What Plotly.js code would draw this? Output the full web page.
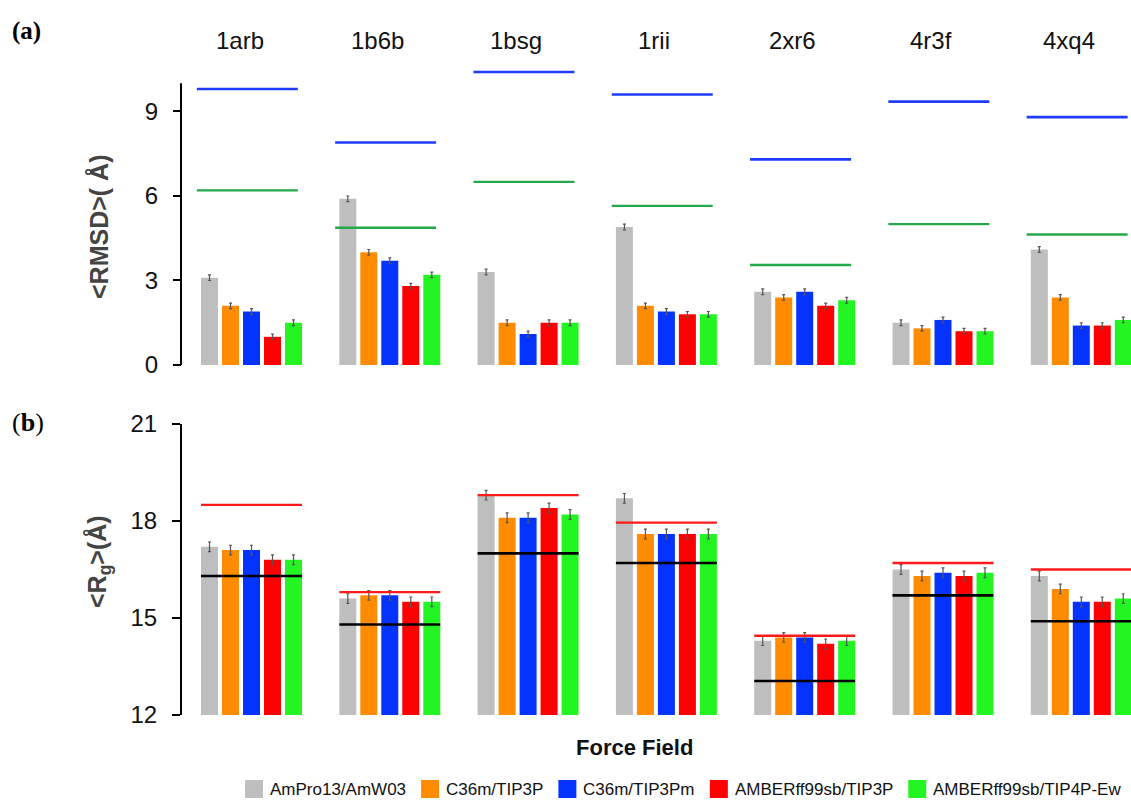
<!DOCTYPE html>
<html>
<head>
<meta charset="utf-8">
<script src="https://cdn.plot.ly/plotly-3.0.1.min.js"></script>
<style>
  html, body { margin: 0; padding: 0; background: #ffffff; }
  #chart { width: 1131px; height: 803px; }
</style>
</head>
<body>
<div id="chart"></div>
<script>
// ---------------- DATA ----------------
const proteins = ['1arb', '1b6b', '1bsg', '1rii', '2xr6', '4r3f', '4xq4'];
const forceFields = ['AmPro13/AmW03', 'C36m/TIP3P', 'C36m/TIP3Pm', 'AMBERff99sb/TIP3P', 'AMBERff99sb/TIP4P-Ew'];

// (a) <RMSD> (Å)
const rmsdAmPro13   = [3.1, 5.9, 3.3, 4.9, 2.6, 1.5, 4.1];
const rmsdC36Tip3p  = [2.1, 4.0, 1.5, 2.1, 2.4, 1.3, 2.4];
const rmsdC36Tip3pm = [1.9, 3.7, 1.1, 1.9, 2.6, 1.6, 1.4];
const rmsdFf99Tip3p = [1.0, 2.8, 1.5, 1.8, 2.1, 1.2, 1.4];
const rmsdFf99Tip4p = [1.5, 3.2, 1.5, 1.8, 2.3, 1.2, 1.6];
const rmsdErrAmPro13   = [0.1, 0.1, 0.1, 0.1, 0.1, 0.1, 0.1];
const rmsdErrC36Tip3p  = [0.1, 0.1, 0.1, 0.1, 0.1, 0.1, 0.1];
const rmsdErrC36Tip3pm = [0.1, 0.1, 0.1, 0.1, 0.1, 0.1, 0.1];
const rmsdErrFf99Tip3p = [0.1, 0.1, 0.1, 0.1, 0.1, 0.1, 0.1];
const rmsdErrFf99Tip4p = [0.1, 0.1, 0.1, 0.1, 0.1, 0.1, 0.1];
const rmsdRefBlue  = [9.8, 7.9, 10.4, 9.6, 7.3, 9.35, 8.8];
const rmsdRefGreen = [6.2, 4.87, 6.5, 5.65, 3.55, 5.0, 4.63];

// (b) <Rg> (Å)
const rgAmPro13   = [17.2, 15.6, 18.8, 18.7, 14.3, 16.5, 16.3];
const rgC36Tip3p  = [17.1, 15.7, 18.1, 17.6, 14.4, 16.3, 15.9];
const rgC36Tip3pm = [17.1, 15.7, 18.1, 17.6, 14.4, 16.4, 15.5];
const rgFf99Tip3p = [16.8, 15.5, 18.4, 17.6, 14.2, 16.3, 15.5];
const rgFf99Tip4p = [16.8, 15.5, 18.2, 17.6, 14.3, 16.4, 15.6];
const rgErrAmPro13   = [0.15, 0.15, 0.15, 0.15, 0.15, 0.15, 0.15];
const rgErrC36Tip3p  = [0.15, 0.15, 0.15, 0.15, 0.15, 0.15, 0.15];
const rgErrC36Tip3pm = [0.15, 0.15, 0.15, 0.15, 0.15, 0.15, 0.15];
const rgErrFf99Tip3p = [0.15, 0.15, 0.15, 0.15, 0.15, 0.15, 0.15];
const rgErrFf99Tip4p = [0.15, 0.15, 0.15, 0.15, 0.15, 0.15, 0.15];
const rgRefRed   = [18.5, 15.8, 18.8, 17.95, 14.45, 16.7, 16.5];
const rgRefBlack = [16.3, 14.8, 17.0, 16.7, 13.05, 15.7, 14.9];

const yTicksRmsd = [0, 3, 6, 9];
const yTicksRg = [12, 15, 18, 21];

// ---------------- STYLE / GEOMETRY ----------------
const seriesColors = ['#BEBEBE', '#FF8C00', '#0433FF', '#FF0000', '#22F522'];
const W = 1131, H = 803;
const mL = 182, mR = 0, mT = 58, mB = 88;
const plotW = W - mL - mR, plotH = H - mT - mB;
const pxX = px => (px - mL) / plotW;
const pxY = py => (H - mB - py) / plotH;

const unitPx = 138.3;                 // pixels per group
const firstCenterPx = 251.5;
const xr0 = -(firstCenterPx - mL) / unitPx;
const xr1 = xr0 + plotW / unitPx;

const topDomain = [pxY(365), 1];
const topRangeMax = (365 - mT) / 28.17;
const botDomain = [0, pxY(424)];

const bargap = 0.241, bargroupgap = 0.19;
const slot = (1 - bargap) / 5;
const halfGroup = (4 * slot + slot * (1 - bargroupgap)) / 2;

const xIdx = proteins.map((_, i) => i);
const fontSans = '"Liberation Sans", Arial, Helvetica, sans-serif';

const rmsdSeries = [rmsdAmPro13, rmsdC36Tip3p, rmsdC36Tip3pm, rmsdFf99Tip3p, rmsdFf99Tip4p];
const rmsdErrs = [rmsdErrAmPro13, rmsdErrC36Tip3p, rmsdErrC36Tip3pm, rmsdErrFf99Tip3p, rmsdErrFf99Tip4p];
const rgSeries = [rgAmPro13, rgC36Tip3p, rgC36Tip3pm, rgFf99Tip3p, rgFf99Tip4p];
const rgErrs = [rgErrAmPro13, rgErrC36Tip3p, rgErrC36Tip3pm, rgErrFf99Tip3p, rgErrFf99Tip4p];

const traces = [];
forceFields.forEach((name, k) => {
  traces.push({
    type: 'bar', name: name, x: xIdx, y: rmsdSeries[k], xaxis: 'x', yaxis: 'y',
    marker: { color: seriesColors[k], line: { width: 0 } },
    error_y: { type: 'data', array: rmsdErrs[k], visible: true, color: '#555555', thickness: 1.2, width: 1.5 },
    showlegend: false, hoverinfo: 'skip'
  });
});
forceFields.forEach((name, k) => {
  traces.push({
    type: 'bar', name: name, x: xIdx, y: rgSeries[k], xaxis: 'x2', yaxis: 'y2',
    marker: { color: seriesColors[k], line: { width: 0 } },
    error_y: { type: 'data', array: rgErrs[k], visible: true, color: '#555555', thickness: 1.2, width: 1.5 },
    showlegend: false, hoverinfo: 'skip'
  });
});

function refLine(values, shift, color, width, xa, ya) {
  const xs = [], ys = [];
  values.forEach((v, i) => {
    xs.push(i - halfGroup + shift, i + halfGroup + shift, null);
    ys.push(v, v, null);
  });
  return { type: 'scatter', mode: 'lines', x: xs, y: ys, xaxis: xa, yaxis: ya,
           line: { color: color, width: width }, showlegend: false, hoverinfo: 'skip', connectgaps: false };
}
traces.push(refLine(rmsdRefBlue, -0.03, '#1F3BFF', 2.6, 'x', 'y'));
traces.push(refLine(rmsdRefGreen, -0.03, '#22AA4A', 2.4, 'x', 'y'));
traces.push(refLine(rgRefRed, 0, '#FF1A1A', 2.4, 'x2', 'y2'));
traces.push(refLine(rgRefBlack, 0, '#000000', 2.6, 'x2', 'y2'));

// ---------------- ANNOTATIONS ----------------
const annotations = [];
proteins.forEach((p, i) => {
  annotations.push({ text: p, x: i, xref: 'x', y: pxY(41), yref: 'paper', xshift: -12,
    showarrow: false, xanchor: 'center', yanchor: 'middle',
    font: { family: fontSans, size: 24, color: '#111111' } });
});
annotations.push({ text: '<b>(a)</b>', x: pxX(10), y: pxY(31), xref: 'paper', yref: 'paper',
  showarrow: false, xanchor: 'left', yanchor: 'middle',
  font: { family: '"Liberation Serif", "Times New Roman", serif', size: 25, color: '#000' } });
annotations.push({ text: '(<b>b</b>)', x: pxX(10), y: pxY(422), xref: 'paper', yref: 'paper',
  showarrow: false, xanchor: 'left', yanchor: 'middle',
  font: { family: '"Liberation Serif", "Times New Roman", serif', size: 26, color: '#000' } });
annotations.push({ text: '<b>&lt;RMSD&gt;( Å)</b>', x: pxX(99), y: pxY(227), xref: 'paper', yref: 'paper',
  showarrow: false, textangle: -90, xanchor: 'center', yanchor: 'middle',
  font: { family: fontSans, size: 25, color: '#444444' } });
annotations.push({ text: '<b>&lt;R<sub>g</sub>&gt;(Å)</b>', x: pxX(99), y: pxY(562), xref: 'paper', yref: 'paper',
  showarrow: false, textangle: -90, xanchor: 'center', yanchor: 'middle',
  font: { family: fontSans, size: 25, color: '#444444' } });
annotations.push({ text: '<b>Force Field</b>', x: pxX(634), y: pxY(747), xref: 'paper', yref: 'paper',
  showarrow: false, xanchor: 'center', yanchor: 'middle',
  font: { family: fontSans, size: 22, color: '#111111' } });

// ---------------- SHAPES (axis line of panel a + custom legend) ----------------
const shapes = [];
shapes.push({ type: 'line', xref: 'paper', yref: 'paper',
  x0: pxX(mL - 1), x1: pxX(mL - 1),
  y0: topDomain[0], y1: topDomain[0] + (10 / topRangeMax) * (topDomain[1] - topDomain[0]),
  line: { color: '#000000', width: 2 } });

const legFontSize = 17;
const ctx = document.createElement('canvas').getContext('2d');
ctx.font = legFontSize + 'px "Liberation Sans", Arial';
const sq = 18, gapSqText = 7, gapItem = 15;
const widths = forceFields.map(t => ctx.measureText(t).width);
const totalW = widths.reduce((a, b) => a + b, 0) + forceFields.length * (sq + gapSqText) + (forceFields.length - 1) * gapItem;
const legCenterX = 683, legCenterY = 789;
let cx = legCenterX - totalW / 2;
forceFields.forEach((name, k) => {
  shapes.push({ type: 'rect', xref: 'paper', yref: 'paper',
    x0: pxX(cx), x1: pxX(cx + sq), y0: pxY(legCenterY - sq / 2), y1: pxY(legCenterY + sq / 2),
    fillcolor: seriesColors[k], line: { width: 0 } });
  annotations.push({ text: name, x: pxX(cx + sq + gapSqText - 1), y: pxY(legCenterY), xref: 'paper', yref: 'paper',
    showarrow: false, xanchor: 'left', yanchor: 'middle', borderpad: 0,
    font: { family: fontSans, size: legFontSize, color: '#111111' } });
  cx += sq + gapSqText + widths[k] + gapItem;
});

const yTickFont = { family: fontSans, size: 24, color: '#111111' };
const layout = {
  width: W, height: H,
  margin: { l: mL, r: mR, t: mT, b: mB, pad: 0 },
  paper_bgcolor: '#ffffff', plot_bgcolor: 'rgba(0,0,0,0)',
  barmode: 'group', bargap: bargap, bargroupgap: bargroupgap,
  showlegend: false,
  xaxis: { domain: [0, 1], range: [xr0, xr1], anchor: 'y', showticklabels: false, ticks: '',
           showgrid: false, zeroline: false, showline: false, fixedrange: true },
  xaxis2: { domain: [0, 1], range: [xr0, xr1], anchor: 'y2', showticklabels: false, ticks: '',
            showgrid: false, zeroline: false, showline: false, fixedrange: true },
  yaxis: { domain: topDomain, range: [0, topRangeMax], anchor: 'x', tickmode: 'array', tickvals: yTicksRmsd,
           ticktext: yTicksRmsd.map(String), ticks: 'outside', ticklen: 8, tickwidth: 2, tickcolor: '#000',
           showline: false, showgrid: false, zeroline: false, tickfont: yTickFont, ticklabelstandoff: 10 },
  yaxis2: { domain: botDomain, range: [12, 21], anchor: 'x2', tickmode: 'array', tickvals: yTicksRg,
            ticktext: yTicksRg.map(String), ticks: 'outside', ticklen: 8, tickwidth: 2, tickcolor: '#000',
            showline: true, linewidth: 2, linecolor: '#000', showgrid: false, zeroline: false,
            tickfont: yTickFont, ticklabelstandoff: 10 },
  annotations: annotations,
  shapes: shapes
};

Plotly.newPlot('chart', traces, layout, { staticPlot: true, displayModeBar: false });
</script>
</body>
</html>
